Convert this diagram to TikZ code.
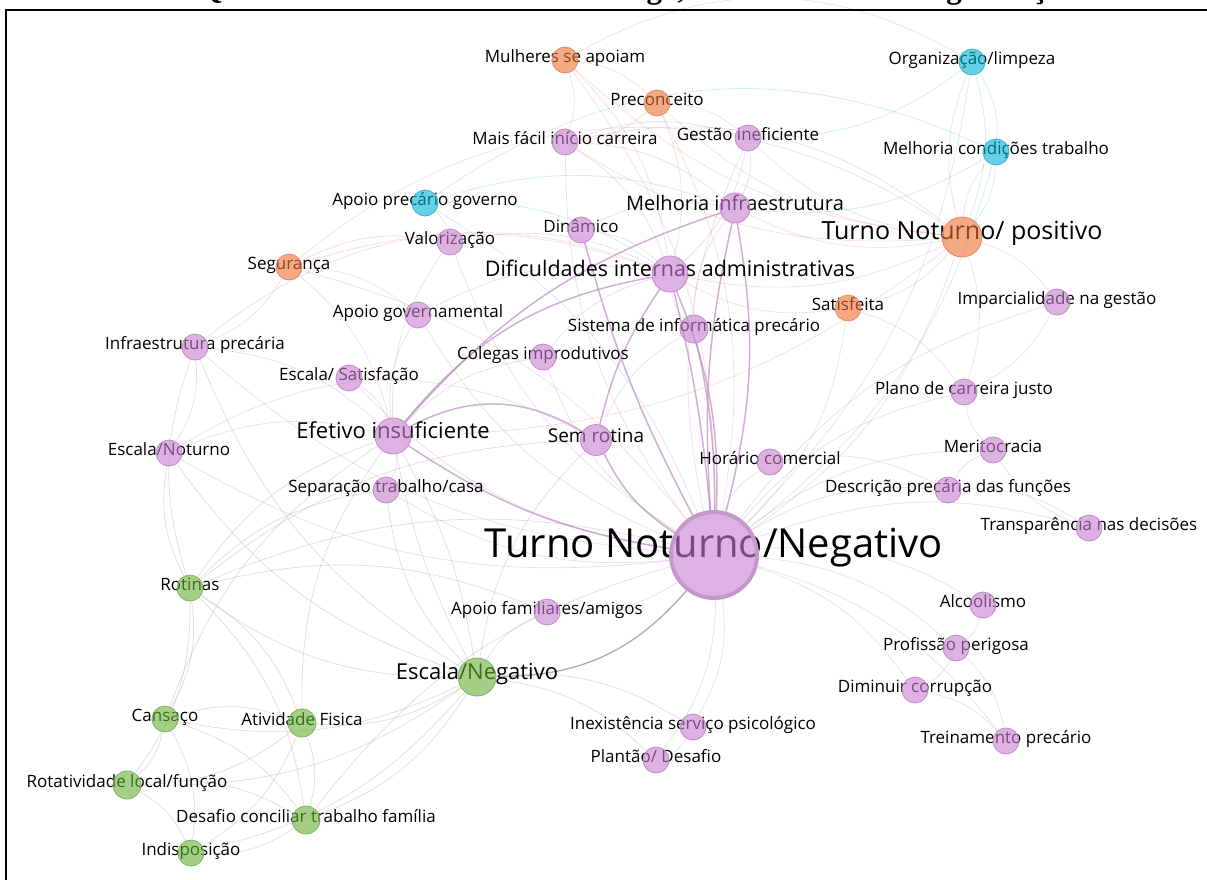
\documentclass[tikz,border=0pt]{standalone}
\usepackage{fontspec}
\setmainfont{Open Sans}
\newfontfamily\titlefont{Liberation Serif}
\usepackage{tikz}
\pgfdeclarelayer{edges}
\pgfsetlayers{edges,main}

\begin{document}
\begin{tikzpicture}
		[x=1pt,y=-1pt,line cap=round,
		%Styles
		lb/.style={font=\fontsize{#1}{#1}\selectfont,inner sep=0pt,text height=.72em,text depth=.22em},
		lb/.default=17,
		pn/.style={circle,minimum size=#1,inner sep=0pt,fill=pkfill,fill opacity=.6,draw=pkline,line width=.8pt},
		pn/.default=26pt,
		on/.style={pn=#1,fill=orfill,draw=orline},
		on/.default=26pt,
		cn/.style={pn=#1,fill=cyfill,draw=cyline},
		cn/.default=26pt,
		gn/.style={pn=#1,fill=grfill,draw=grline},
		gn/.default=26pt,
		big node/.style={pn=86pt,draw=pkring,line width=4pt},
		pe/.style={draw=pkline,draw opacity=.3,line width=.7pt,bend left=18},
		pes/.style={draw=pkline,draw opacity=.7,line width=1.5pt,bend left=12},
		oe/.style={draw=orline,draw opacity=.28,line width=.7pt,bend left=18},
		ce/.style={draw=cyline,draw opacity=.25,line width=.7pt,bend left=18},
		ge/.style={draw=grey,draw opacity=.35,line width=.7pt,bend left=18},
		ges/.style={draw=grey,draw opacity=.85,line width=1.3pt,bend right=25}
		]
		
		%Colors
		\definecolor{pkfill}{RGB}{198,127,207}
		\definecolor{pkline}{RGB}{190,140,198}
		\definecolor{pkring}{RGB}{196,152,202}
		\definecolor{orfill}{RGB}{238,113,50}
		\definecolor{orline}{RGB}{222,140,110}
		\definecolor{cyfill}{RGB}{0,177,213}
		\definecolor{cyline}{RGB}{70,175,205}
		\definecolor{grfill}{RGB}{102,177,52}
		\definecolor{grline}{RGB}{128,176,104}
		\definecolor{grey}{RGB}{165,160,150}
		
		\useasboundingbox (0,0) rectangle (1207,880);
		
		%Title (cut by the page) and frame
		\node[font=\titlefont\bfseries\fontsize{31}{31}\selectfont,anchor=base] (title) at (638,-1.5) {Quadro 4 – Características do cargo, do trabalho e da organização};
		\draw[line width=2pt] (6,920) |- (1240,10);
		
		%The graphic
		\node[lb] (mulh-t) at (565,60) {Mulheres se apoiam}; \node[on] (mulh) at (mulh-t) {};
		\node[lb] (prec-t) at (657,103) {Preconceito}; \node[on] (prec) at (prec-t) {};
		\node[lb] (orgl-t) at (972,62) {Organização/limpeza}; \node[cn] (orgl) at (orgl-t) {};
		\node[lb] (mfic-t) at (565,142) {Mais fácil início carreira}; \node[pn] (mfic) at (mfic-t) {};
		\node[lb] (gest-t) at (748,138) {Gestão ineficiente}; \node[pn] (gest) at (gest-t) {};
		\node[lb] (mcond-t) at (996,152) {Melhoria condições trabalho}; \node[cn] (mcond) at (mcond-t) {};
		\node[lb] (apg-t) at (425,203) {Apoio precário governo}; \node[cn] (apg) at (apg-t) {};
		\node[lb=20] (mifr-t) at (735,208) {Melhoria infraestrutura}; \node[pn=30pt] (mifr) at (mifr-t) {};
		\node[lb=25] (tnp-t) at (962,237) {Turno Noturno/ positivo}; \node[on=40pt] (tnp) at (tnp-t) {};
		\node[lb] (dina-t) at (581,230) {Dinâmico}; \node[pn] (dina) at (dina-t) {};
		\node[lb] (valo-t) at (450,242) {Valorização}; \node[pn] (valo) at (valo-t) {};
		\node[lb] (segu-t) at (289,267) {Segurança}; \node[on] (segu) at (segu-t) {};
		\node[lb=21.5] (difi-t) at (670,274) {Dificuldades internas administrativas}; \node[pn=36pt] (difi) at (difi-t) {};
		\node[lb] (sati-t) at (848,308) {Satisfeita}; \node[on] (sati) at (sati-t) {};
		\node[lb] (impa-t) at (1057,302) {Imparcialidade na gestão}; \node[pn] (impa) at (impa-t) {};
		\node[lb] (apgo-t) at (418,315) {Apoio governamental}; \node[pn] (apgo) at (apgo-t) {};
		\node[lb] (sist-t) at (694,329) {Sistema de informática precário}; \node[pn=28pt] (sist) at (sist-t) {};
		\node[lb] (infp-t) at (195,347) {Infraestrutura precária}; \node[pn] (infp) at (infp-t) {};
		\node[lb] (coleg-t) at (543,357) {Colegas improdutivos}; \node[pn] (coleg) at (coleg-t) {};
		\node[lb] (escs-t) at (349,378) {Escala/ Satisfação}; \node[pn] (escs) at (escs-t) {};
		\node[lb] (plano-t) at (964,392) {Plano de carreira justo}; \node[pn] (plano) at (plano-t) {};
		\node[lb=22] (efet-t) at (393,436) {Efetivo insuficiente}; \node[pn=36pt] (efet) at (efet-t) {};
		\node[lb=19] (semr-t) at (596,440) {Sem rotina}; \node[pn=31pt] (semr) at (semr-t) {};
		\node[lb] (meri-t) at (993,450) {Meritocracia}; \node[pn] (meri) at (meri-t) {};
		\node[lb] (escn-t) at (169,453) {Escala/Noturno}; \node[pn] (escn) at (escn-t) {};
		\node[lb] (hora-t) at (770,462) {Horário comercial}; \node[pn] (hora) at (hora-t) {};
		\node[lb] (sepa-t) at (386,490) {Separação trabalho/casa}; \node[pn] (sepa) at (sepa-t) {};
		\node[lb] (desc-t) at (948,490) {Descrição precária das funções}; \node[pn] (desc) at (desc-t) {};
		\node[lb] (trans-t) at (1089,528) {Transparência nas decisões}; \node[pn] (trans) at (trans-t) {};
		\node[lb=40] (tnn-t) at (714,555) {Turno Noturno/Negativo}; \node[big node] (tnn) at (tnn-t) {};
		\node[lb] (roti-t) at (190,588) {Rotinas}; \node[gn] (roti) at (roti-t) {};
		\node[lb] (alco-t) at (983,605) {Alcoolismo}; \node[pn] (alco) at (alco-t) {};
		\node[lb] (apfa-t) at (547,612) {Apoio familiares/amigos}; \node[pn] (apfa) at (apfa-t) {};
		\node[lb] (prof-t) at (956,648) {Profissão perigosa}; \node[pn] (prof) at (prof-t) {};
		\node[lb=22] (escneg-t) at (477,677) {Escala/Negativo}; \node[gn=38pt] (escneg) at (escneg-t) {};
		\node[lb] (dimi-t) at (915,690) {Diminuir corrupção}; \node[pn] (dimi) at (dimi-t) {};
		\node[lb] (cans-t) at (165,719) {Cansaço}; \node[gn] (cans) at (cans-t) {};
		\node[lb] (ativ-t) at (302,723) {Atividade Fisica}; \node[gn=28pt] (ativ) at (ativ-t) {};
		\node[lb] (inex-t) at (693,727) {Inexistência serviço psicológico}; \node[pn] (inex) at (inex-t) {};
		\node[lb] (trei-t) at (1006,741) {Treinamento precário}; \node[pn] (trei) at (trei-t) {};
		\node[lb] (plan-t) at (656,760) {Plantão/ Desafio}; \node[pn] (plan) at (plan-t) {};
		\node[lb] (rota-t) at (127,785) {Rotatividade local/função}; \node[gn=28pt] (rota) at (rota-t) {};
		\node[lb] (desa-t) at (306,820) {Desafio conciliar trabalho família}; \node[gn=28pt] (desa) at (desa-t) {};
		\node[lb] (indi-t) at (191,853) {Indisposição}; \node[gn] (indi) at (indi-t) {};
		
		\begin{pgfonlayer}{edges}
		%strong links of the central node
		\path 	(difi)	edge [pes] (tnn) edge [pes,bend left=4] (tnn)
				(mifr)	edge [pes] (tnn) edge [pes,bend right=8] (tnn)
				(sist)	edge [pes,bend left=6] (tnn)
				(dina)	edge [pes,bend right=6] (tnn)
				(semr)	edge [pes,bend right=15] (tnn)
				(efet)	edge [pes,bend right=12] (tnn)
						edge [pes,bend left=20] (difi)
						edge [pes,bend left=30] (semr)
						edge [pes,bend left=15] (mifr)
				(difi)	edge [pes,bend right=10] (semr);
		%purple links
		\path 	(tnn)	edge [pe] (hora) edge [pe] (meri) edge [pe] (desc) edge [pe] (plano)
						edge [pe] (trans) edge [pe] (alco) edge [pe] (prof) edge [pe] (dimi)
						edge [pe] (trei) edge [pe] (inex) edge [pe] (plan) edge [pe] (impa)
						edge [pe] (apfa) edge [pe] (sepa) edge [pe] (escs) edge [pe] (apgo)
						edge [pe] (valo) edge [pe] (coleg) edge [pe] (mfic) edge [pe] (gest)
						edge [pe] (infp) edge [pe] (escn)
				(mfic)	edge [pe] (difi) edge [pe] (gest) edge [pe] (mifr)
						edge [pe,bend left=25] (tnp)
				(gest)	edge [pe] (difi) edge [pe] (mifr)
				(dina)	edge [pe] (difi) edge [pe] (mifr)
				(valo)	edge [pe] (difi) (apgo) edge [pe] (difi)
				(coleg)	edge [pe] (difi) (sist) edge [pe] (difi) edge [pe] (mifr)
				(escs)	edge [pe] (efet) (efet) edge [pe] (sepa) edge [pe] (coleg)
						edge [pe] (apgo) edge [pe] (valo)
				(infp)	edge [pe] (escn) edge [pe] (efet) edge [pe,bend left=30] (difi)
				(escn)	edge [pe] (efet) edge [pe,bend left=30] (semr)
				(desc)	edge [pe] (meri) edge [pe] (trans) (meri) edge [pe] (plano)
				(alco)	edge [pe] (prof) (prof) edge [pe] (dimi) edge [pe] (trei)
				(dimi)	edge [pe] (trei) (inex) edge [pe] (plan) (hora) edge [pe] (desc)
				(impa)	edge [pe] (plano) (trans) edge [pe] (meri) (semr) edge [pe] (sist);
		%orange links
		\path 	(tnp)	edge [oe] (prec) edge [oe] (mulh) edge [oe] (sati) edge [oe] (mifr)
						edge [oe] (difi) edge [oe] (orgl) edge [oe] (mcond) edge [oe] (gest)
						edge [oe] (impa) edge [oe] (tnn) edge [oe] (plano) edge [oe] (efet)
						edge [oe] (mfic)
				(segu)	edge [oe,bend left=37] (tnp)
						edge [oe] (difi) edge [oe] (efet) edge [oe] (valo) edge [oe] (infp)
						edge [oe] (apgo) edge [oe] (tnn)
				(mulh)	edge [oe] (mfic) edge [oe] (difi) edge [oe] (tnn) edge [oe] (prec)
						edge [oe,bend left=30] (orgl)
				(prec)	edge [oe] (mfic) edge [oe] (difi) edge [oe] (gest) edge [oe] (tnn)
				(sati)	edge [oe] (tnn) edge [oe] (difi) edge [oe] (plano);
		%blue links
		\path 	(orgl)	edge [ce] (mcond) edge [ce] (tnp) edge [ce] (gest) edge [ce] (tnn)
				(mcond)	edge [ce] (tnp) edge [ce] (tnn) edge [ce] (mifr)
				(apg)	edge [ce] (mifr) edge [ce] (difi) edge [ce] (valo) edge [ce] (tnn)
						edge [ce,bend left=30] (mcond);
		%green links
		\path 	(escneg)	edge [ges] (tnn)
					edge [ge] (roti) edge [ge] (cans) edge [ge] (ativ) edge [ge] (rota)
					edge [ge] (desa) edge [ge] (indi) edge [ge,bend right=10] (efet)
					edge [ge,bend left=8] (efet) edge [ge] (apfa) edge [ge] (sepa)
					edge [ge] (escn) edge [ge] (infp) edge [ge] (semr) edge [ge] (inex)
					edge [ge] (plan)
				(roti)	edge [ge] (cans) edge [ge] (ativ) edge [ge] (rota) edge [ge] (efet)
					edge [ge] (apfa) edge [ge] (sepa) edge [ge] (tnn) edge [ge] (escn)
					edge [ge] (infp) edge [ge] (semr) edge [ge] (desa)
				(cans)	edge [ge] (ativ) edge [ge] (rota) edge [ge] (indi) edge [ge] (desa)
					edge [ge] (efet)
				(ativ)	edge [ge] (desa) edge [ge] (rota) edge [ge] (indi) edge [ge] (efet)
				(rota)	edge [ge] (indi) edge [ge] (desa)
				(desa)	edge [ge] (indi) edge [ge] (tnn);
		\end{pgfonlayer}
	\end{tikzpicture}
\end{document}
